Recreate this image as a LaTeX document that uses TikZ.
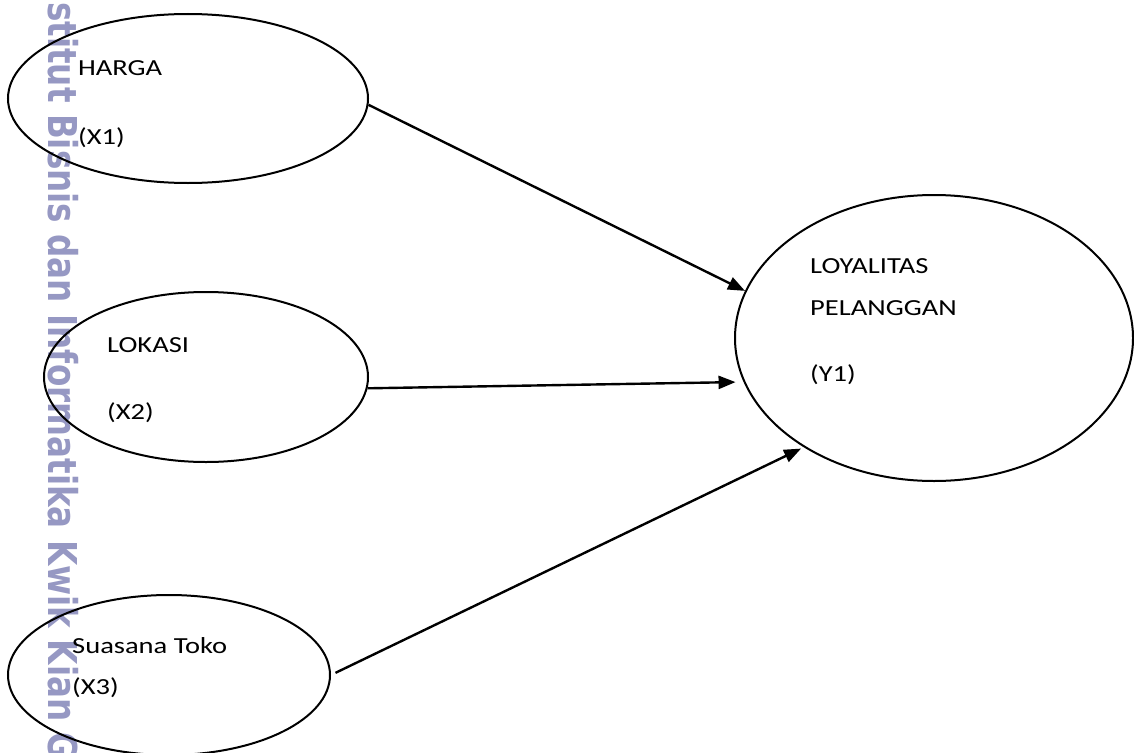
\documentclass[tikz,border=0pt]{standalone}
\usepackage{fontspec}
\setmainfont{Carlito}[FakeStretch=1.24]
\newfontfamily\wmfont{DejaVu Sans}
\usetikzlibrary{shapes.geometric,arrows.meta}
\definecolor{wmcol}{RGB}{150,152,195}
\begin{document}
\begin{tikzpicture}[x=1pt,y=-1pt,
  oval/.style={ellipse, draw=black, line width=2pt, inner sep=0pt},
  lbl/.style={anchor=base west, inner sep=0pt, font=\fontsize{23}{28}\selectfont},
  link/.style={line width=2.4pt, -{Triangle[length=17pt,width=13pt]}}]
\path[use as bounding box, clip] (0,0) rectangle (1134,752);
\fill[white] (0,0) rectangle (1134,752);
% watermark
\node[rotate=-90, anchor=base west, inner sep=0pt, text=wmcol,
      font=\wmfont\bfseries\fontsize{32.6}{34}\selectfont] (wm) at (48,2)
      {\scalebox{1}[1.22]{stitut Bisnis dan Informatika Kwik Kian G}};
% ellipses
\node[oval, minimum width=360pt, minimum height=169pt] (harga) at (188,98.5) {};
\node[oval, minimum width=324pt, minimum height=170pt] (lokasi) at (206,377) {};
\node[oval, minimum width=322pt, minimum height=160pt] (toko) at (169,675) {};
\node[oval, minimum width=398pt, minimum height=286pt] (loyal) at (934,338) {};
% labels
\node[lbl] (t1) at (78,75) {HARGA};
\node[lbl] (t1b) at (78,144) {(X1)};
\node[lbl] (t2) at (107,352) {LOKASI};
\node[lbl] (t2b) at (107,419) {(X2)};
\node[lbl] (t3) at (72,653) {Suasana Toko};
\node[lbl] (t3b) at (72,694) {(X3)};
\node[lbl] (t4) at (810,273) {LOYALITAS};
\node[lbl] (t4b) at (810,315) {PELANGGAN};
\node[lbl] (t4c) at (810,381) {(Y1)};
% arrows
\draw[link] (harga.-2) -- (loyal.166);
\draw[link, shorten >=8pt] (lokasi.-4) -- (loyal.193);
\draw[link, shorten <=5pt, shorten >=3pt] (toko.0) -- (loyal.220);
\end{tikzpicture}
\end{document}
